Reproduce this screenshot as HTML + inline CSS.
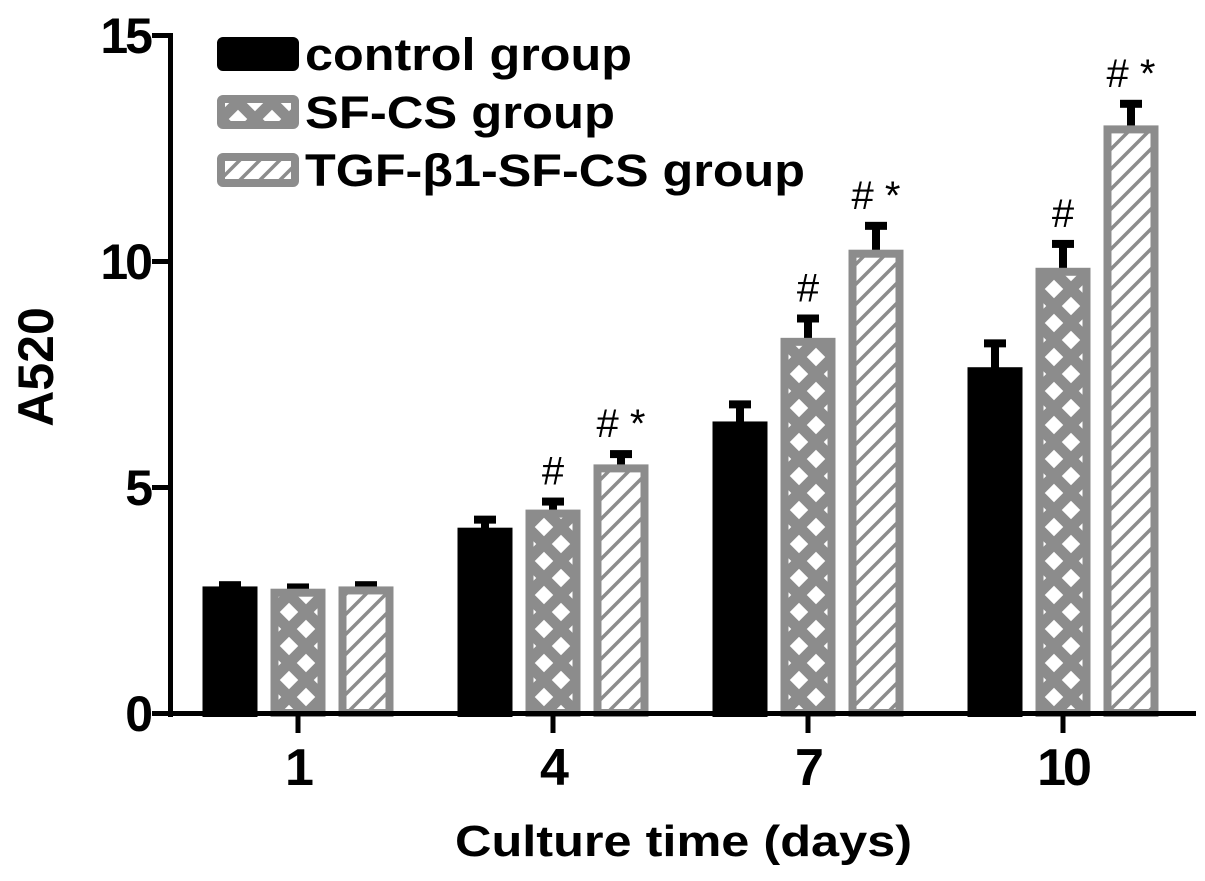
<!DOCTYPE html>
<html><head><meta charset="utf-8"><style>
html,body{margin:0;padding:0;background:#fff;}
svg{display:block;font-family:"Liberation Sans",Arial,sans-serif;}
</style></head><body>
<svg id="chart" width="1205" height="881" viewBox="0 0 1205 881" xmlns="http://www.w3.org/2000/svg">
<defs>
<pattern id="cross" patternUnits="userSpaceOnUse" width="34" height="34">
<rect width="34" height="34" fill="#fff"/>
<path d="M-5,5 L5,-5 M-5,39 L39,-5 M29,39 L39,29 M-5,29 L5,39 M-5,-5 L39,39 M29,-5 L39,5" stroke="#8c8c8c" stroke-width="11"/>
</pattern>
<pattern id="hatch" patternUnits="userSpaceOnUse" width="20" height="20">
<rect width="20" height="20" fill="#fff"/>
<path d="M-5,25 L25,-5 M-5,5 L5,-5 M15,25 L25,15" stroke="#8c8c8c" stroke-width="3.5"/>
</pattern>
</defs>
<g id="plot"></g>
</svg>
<script>
const categories = ["1","4","7","10"];
const seriesNames = ["control group","SF-CS group","TGF-β1-SF-CS group"];
const controlVals = [2.8, 4.1, 6.45, 7.65];
const sfcsVals = [2.75, 4.5, 8.3, 9.85];
const tgfVals = [2.8, 5.5, 10.25, 13.0];
const controlErr = [0.05, 0.2, 0.4, 0.55];
const sfcsErr = [0.05, 0.2, 0.45, 0.55];
const tgfErr = [0.05, 0.25, 0.55, 0.5];
const sfcsMarks = ["", "#", "#", "#"];
const tgfMarks = ["", "# *", "# *", "# *"];
const yTicks = [0, 5, 10, 15];

const NS = "http://www.w3.org/2000/svg";
const g = document.getElementById("plot");
function yS(v){ return 713 - v * 45.2; }
function xC(i){ return 298 + i * 255; }
function mk(tag, attrs, parent){
  const e = document.createElementNS(NS, tag);
  for (const k in attrs) e.setAttribute(k, attrs[k]);
  (parent || g).appendChild(e);
  return e;
}
const series = [
  {vals: controlVals, err: controlErr, fill: "#000", stroke: "#000", marks: null, key: "control"},
  {vals: sfcsVals, err: sfcsErr, fill: "url(#cross)", stroke: "#8c8c8c", marks: sfcsMarks, key: "sfcs"},
  {vals: tgfVals, err: tgfErr, fill: "url(#hatch)", stroke: "#8c8c8c", marks: tgfMarks, key: "tgf"}
];
const BW = 55, STEP = 68;
series.forEach((s, si) => {
  categories.forEach((c, i) => {
    const cx = xC(i) + (si - 1) * STEP;
    const top = yS(s.vals[i]);
    const errTop = yS(s.vals[i] + s.err[i]);
    const eb = mk("g", {});
    
    
    mk("rect", {x: cx - 4, y: errTop, width: 8, height: top - errTop + 2, fill: "#000"}, eb);
    mk("rect", {x: cx - 11, y: errTop - 3, width: 22, height: 8, fill: "#000"}, eb);
    const r = mk("rect", {x: cx - BW/2 + 4, y: top + 4, width: BW - 8, height: 713 - top - 4, fill: s.fill, stroke: s.stroke, "stroke-width": 8});
    
    
    if (s.marks && s.marks[i]) {
      const t = mk("text", {x: cx, y: errTop - 16, "text-anchor": "middle", "font-size": 40, fill: "#000"});
      t.textContent = s.marks[i];
      
      
    }
  });
});
const yAxis = mk("rect", {x: 168, y: 33, width: 5, height: 684, fill: "#000"});


const xAxis = mk("rect", {x: 168, y: 711, width: 1028, height: 5, fill: "#000"});


yTicks.forEach(v => {
  mk("rect", {x: 152, y: yS(v) - 2, width: 18, height: 5, fill: "#000"});
  const t = mk("text", {x: 150, y: yS(v) + 18, "text-anchor": "end", "font-size": 50, "font-weight": "bold", "letter-spacing": -3});
  t.textContent = v;
  
  
});
categories.forEach((c, i) => {
  mk("rect", {x: xC(i) - 2.5, y: 714, width: 5, height: 19, fill: "#000"});
  const t = mk("text", {x: xC(i), y: 785, "text-anchor": "middle", "font-size": 52, "font-weight": "bold", "letter-spacing": -3});
  t.textContent = c;
  
  
});
const xt = mk("text", {x: 455, y: 856, "font-size": 44, "font-weight": "bold", textLength: 457, lengthAdjust: "spacingAndGlyphs"});
xt.textContent = "Culture time (days)";


const yt = mk("text", {x: 0, y: 0, "font-size": 50, "font-weight": "bold", "text-anchor": "middle", transform: "translate(53,367) rotate(-90)"});
yt.textContent = "A520";


const legendFills = ["#000", "url(#cross)", "url(#hatch)"];
const legendStrokes = ["#000", "#8c8c8c", "#8c8c8c"];
const legendWidths = [327, 310, 500];
seriesNames.forEach((n, i) => {
  const lg = mk("g", {});
  
  
  const yc = 54 + i * 58;
  mk("rect", {x: 221, y: yc - 13, width: 74, height: 26, fill: legendFills[i], stroke: legendStrokes[i], "stroke-width": 8, rx: 2}, lg);
  const t = mk("text", {x: 305, y: yc + 16, "font-size": 45, "font-weight": "bold", textLength: legendWidths[i], lengthAdjust: "spacingAndGlyphs"}, lg);
  t.textContent = n;
});
</script>
</body></html>
